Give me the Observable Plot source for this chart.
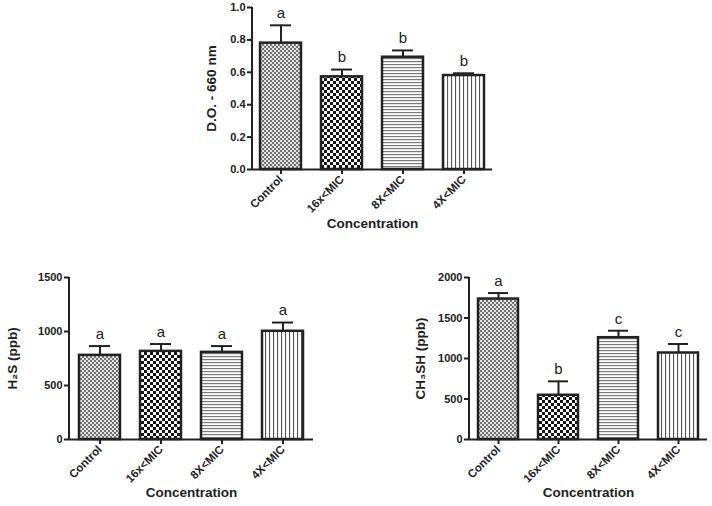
<!DOCTYPE html>
<html><head><meta charset="utf-8">
<script src="https://cdn.jsdelivr.net/npm/d3@7"></script>
<script src="https://cdn.jsdelivr.net/npm/@observablehq/plot@0.6"></script>
<style>
body{margin:0;background:#fff;}
#wrap{position:relative;width:712px;height:506px;background:#fff;overflow:hidden;}
#wrap svg{position:absolute;}
</style></head><body>
<svg width="0" height="0" style="position:absolute;left:0;top:0">
<defs>
<pattern id="pCtrl" width="4" height="4" patternUnits="userSpaceOnUse">
 <rect width="4" height="4" fill="#e2e2e2"/>
 <rect width="2" height="2" fill="#737373"/>
 <rect x="2" y="2" width="2" height="2" fill="#737373"/>
</pattern>
<pattern id="pChk" width="6" height="6" patternUnits="userSpaceOnUse">
 <rect width="6" height="6" fill="#ffffff"/>
 <rect width="3" height="3" fill="#151515"/>
 <rect x="3" y="3" width="3" height="3" fill="#151515"/>
</pattern>
<pattern id="pHor" width="4" height="3" patternUnits="userSpaceOnUse">
 <rect width="4" height="3" fill="#ffffff"/>
 <rect y="1" width="4" height="1.2" fill="#7a7a7a"/>
</pattern>
<pattern id="pVer" width="4" height="4" patternUnits="userSpaceOnUse">
 <rect width="4" height="4" fill="#ffffff"/>
 <rect x="1" width="1.1" height="4" fill="#555"/>
</pattern>
</defs></svg>
<div id="wrap"></div>
<script>
// ---- data ----
const categories = ["Control", "16x<MIC", "8X<MIC", "4X<MIC"];
const odMean = [0.78, 0.572, 0.693, 0.58];
const odErr = [0.11, 0.045, 0.042, 0.014];
const odLetters = ["a", "b", "b", "b"];
const odTicks = [0, 0.2, 0.4, 0.6, 0.8, 1.0];
const h2sMean = [779, 816, 807, 1002];
const h2sErr = [86, 68, 58, 81];
const h2sLetters = ["a", "a", "a", "a"];
const h2sTicks = [0, 500, 1000, 1500];
const ch3shMean = [1734, 546, 1257, 1068];
const ch3shErr = [74, 172, 86, 111];
const ch3shLetters = ["a", "b", "c", "c"];
const ch3shTicks = [0, 500, 1000, 1500, 2000];
const xTitle = "Concentration";

// ---- styles ----
const fills = ["url(#pCtrl)", "url(#pChk)", "url(#pHor)", "url(#pVer)"];
const FONT = "'Liberation Sans', Arial, Helvetica, sans-serif";
const INK = "#222";

function panel(o) {
  const data = categories.map((c, i) => ({cat: c, v: o.means[i], hi: o.means[i] + o.errs[i], letter: o.letters[i], fill: fills[i]}));
  const chart = Plot.plot({
    width: o.width, height: o.height,
    marginLeft: o.ml, marginRight: o.mr, marginTop: o.mt, marginBottom: o.mb,
    style: {fontFamily: FONT, background: "transparent", overflow: "visible", color: INK},
    x: {domain: categories, paddingInner: 0.33, paddingOuter: o.po, label: null},
    y: {domain: o.domain, label: null},
    color: {type: "identity"},
    marks: [
      Plot.ruleX(data, {x: "cat", y1: "v", y2: "hi", stroke: INK, strokeWidth: 2}),
      Plot.tickY(data, {x: "cat", y: "hi", stroke: INK, strokeWidth: 2, insetLeft: 10, insetRight: 10}),
      Plot.barY(data, {x: "cat", y: "v", fill: "fill", stroke: INK, strokeWidth: 2.5}),
      Plot.ruleY([0], {stroke: INK, strokeWidth: 2}),
      Plot.axisY({ticks: o.ticks, tickFormat: o.fmt, tickSize: 5, tickPadding: 2, fontSize: 11, fontWeight: "bold",
        strokeWidth: 2, label: o.ylabel, labelAnchor: "center", labelOffset: o.lo, labelArrow: "none"}),
      Plot.axisX({tickRotate: -45, tickSize: 5, tickPadding: 3, fontSize: 11.5, fontWeight: "bold", strokeWidth: 2,
        label: xTitle, labelAnchor: "center", labelOffset: o.xlo, labelArrow: "none"}),
      Plot.text(data, {x: "cat", y: "hi", text: "letter", dy: -12, fontSize: 15, lineAnchor: "middle", fill: INK})
    ]
  });
  const svg = d3.select(chart);
  svg.style("left", o.left + "px").style("top", o.top + "px");
  svg.selectAll('g[aria-label="y-axis label"], g[aria-label="x-axis label"]')
    .attr("font-size", 13.5).attr("font-weight", "bold");
  svg.selectAll('g[aria-label="y-axis label"] text, g[aria-label="x-axis label"] text')
    .attr("font-size", 13.5).attr("font-weight", "bold");
  // y axis line from 0 to the top of the domain
  const y = chart.scale("y"), x = chart.scale("x");
  svg.append("line")
    .attr("x1", x.range[0]).attr("x2", x.range[0])
    .attr("y1", y.apply(o.domain[0]) + 1).attr("y2", y.apply(o.domain[1]))
    .attr("stroke", INK).attr("stroke-width", 2);
  document.getElementById("wrap").appendChild(chart);
}

panel({means: odMean, errs: odErr, letters: odLetters, domain: [0, 1], ticks: odTicks, fmt: d3.format(".1f"),
  ylabel: "D.O. - 660 nm", left: 150, top: 0, width: 360, height: 240, ml: 102, mr: 18, mt: 7, mb: 71, po: 0.13, lo: 46, xlo: 58});
panel({means: h2sMean, errs: h2sErr, letters: h2sLetters, domain: [0, 1500], ticks: h2sTicks, fmt: d3.format("d"),
  ylabel: "H\u2082S (ppb)", left: 0, top: 250, width: 330, height: 256, ml: 69, mr: 17, mt: 27, mb: 67, po: 0.16, lo: 62, xlo: 57});
panel({means: ch3shMean, errs: ch3shErr, letters: ch3shLetters, domain: [0, 2000], ticks: ch3shTicks, fmt: d3.format("d"),
  ylabel: "CH\u2083SH (ppb)", left: 380, top: 250, width: 332, height: 256, ml: 89, mr: 5, mt: 27, mb: 67, po: 0.13, lo: 54, xlo: 57});
</script>
</body></html>
